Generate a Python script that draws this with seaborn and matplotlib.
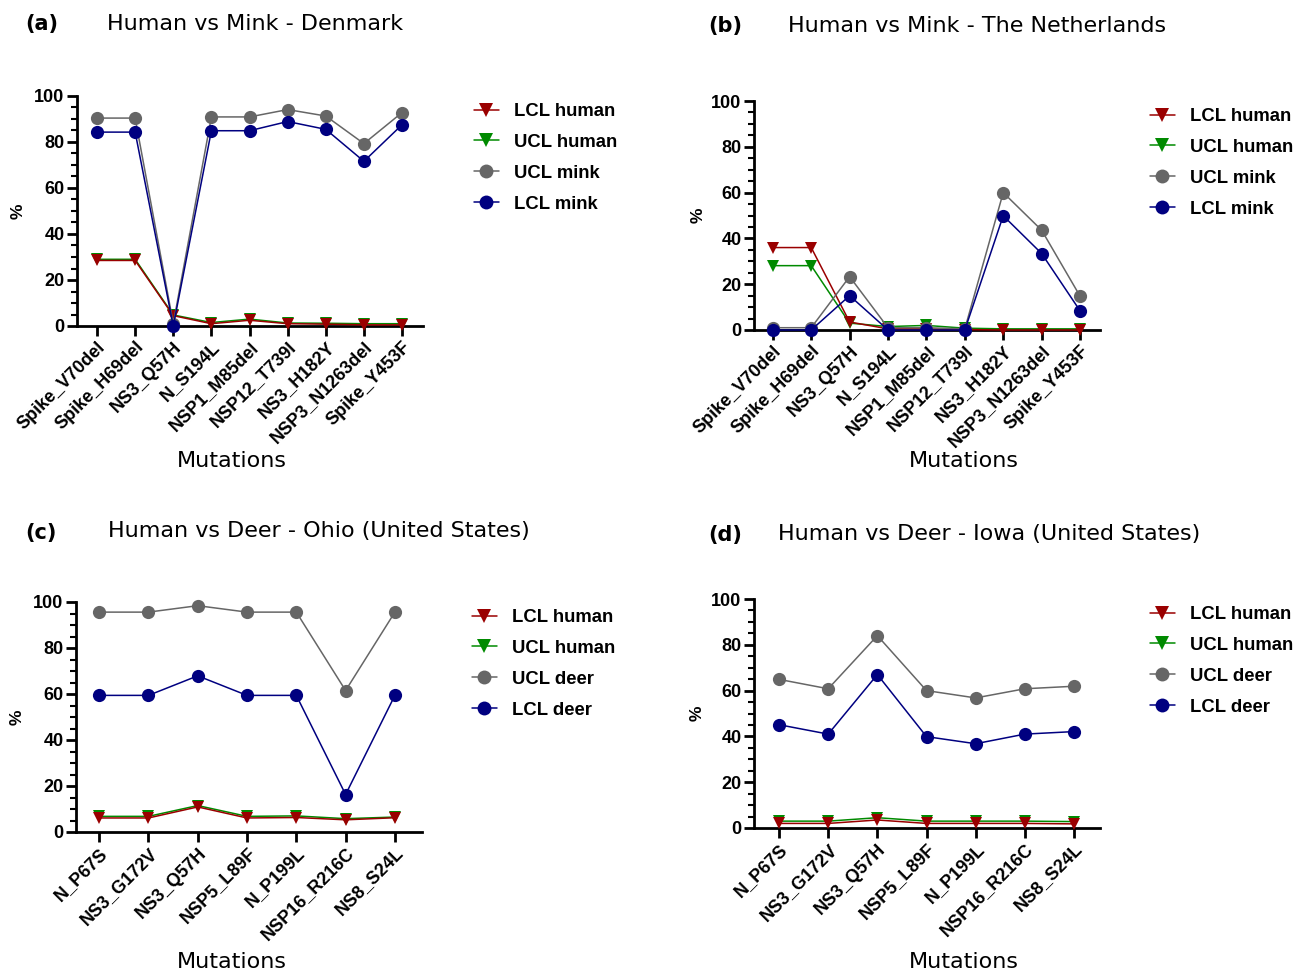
import matplotlib
matplotlib.use("Agg")
import matplotlib.pyplot as plt
from matplotlib.lines import Line2D
from matplotlib.ticker import MultipleLocator
import pandas as pd
import seaborn as sns

sns.set_theme(style="ticks")
plt.rcParams["font.family"] = ["DejaVu Sans"]
plt.rcParams["text.color"] = "black"
plt.rcParams["axes.labelcolor"] = "black"
plt.rcParams["xtick.color"] = "black"
plt.rcParams["ytick.color"] = "black"

# ---- data -------------------------------------------------------------
mink_mutations = ["Spike_V70del", "Spike_H69del", "NS3_Q57H", "N_S194L", "NSP1_M85del",
                  "NSP12_T739I", "NS3_H182Y", "NSP3_N1263del", "Spike_Y453F"]
deer_mutations = ["N_P67S", "NS3_G172V", "NS3_Q57H", "NSP5_L89F", "N_P199L",
                  "NSP16_R216C", "NS8_S24L"]

# Denmark
dk_lcl_human = [28.5, 28.5, 4.5, 1.0, 2.5, 1.0, 0.8, 0.5, 0.5]
dk_ucl_human = [29.0, 29.0, 4.8, 1.5, 3.0, 1.3, 1.2, 1.0, 1.0]
dk_ucl_mink = [90.4, 90.4, 1.0, 90.9, 90.9, 94.1, 91.3, 79.3, 92.8]
dk_lcl_mink = [84.3, 84.3, 0.0, 84.9, 84.9, 88.9, 85.5, 71.6, 87.5]

# The Netherlands
nl_lcl_human = [36.0, 36.0, 3.5, 0.5, 0.5, 0.2, 0.0, 0.0, 0.0]
nl_ucl_human = [28.1, 28.1, 3.0, 1.5, 2.0, 0.8, 0.5, 0.5, 0.5]
nl_ucl_mink = [1.0, 1.0, 23.3, 1.0, 1.0, 0.5, 60.0, 43.6, 14.8]
nl_lcl_mink = [0.0, 0.0, 15.0, 0.0, 0.0, 0.0, 49.9, 33.4, 8.4]

# Ohio
oh_lcl_human = [6.1, 6.1, 10.9, 6.1, 6.3, 5.3, 6.2]
oh_ucl_human = [6.8, 6.8, 11.5, 6.8, 7.0, 5.8, 6.5]
oh_ucl_deer = [95.6, 95.6, 98.4, 95.6, 95.6, 61.5, 95.6]
oh_lcl_deer = [59.4, 59.4, 67.9, 59.4, 59.4, 16.3, 59.4]

# Iowa
ia_lcl_human = [2.0, 2.0, 3.5, 2.0, 2.0, 2.0, 1.8]
ia_ucl_human = [3.0, 3.0, 4.5, 3.0, 3.0, 3.0, 2.8]
ia_ucl_deer = [64.9, 60.8, 84.0, 60.0, 56.8, 60.8, 61.9]
ia_lcl_deer = [45.1, 41.0, 67.0, 39.9, 36.8, 41.0, 42.1]

RED = "#9a0000"
GREEN = "#008a00"
GRAY = "#666666"
BLUE = "#000080"

W, H = 1295, 973
fig = plt.figure(figsize=(W / 100, H / 100), dpi=100)

TICK_FONT = {"family": "Liberation Sans", "weight": "bold", "size": 13}


def px_axes(x0, y_top, x1, y_bot):
    return fig.add_axes([x0 / W, 1 - y_bot / H, (x1 - x0) / W, (y_bot - y_top) / H])


def panel(rect, cats, series, animal, xlim, legend_xy, letter, letter_xy,
          title, title_xy, xlabel_xy, ylabel_xy):
    ax = px_axes(*rect)
    names = ["LCL human", "UCL human", f"UCL {animal}", f"LCL {animal}"]
    colors = [RED, GREEN, GRAY, BLUE]
    markers = ["v", "v", "o", "o"]
    zorders = [5, 4, 6, 7]
    for i in range(4):
        df = pd.DataFrame({"mutation": cats, "pct": series[i]})
        sns.lineplot(data=df, x="mutation", y="pct", ax=ax, color=colors[i],
                     marker=markers[i], markersize=9.5 if markers[i] == "o" else 9,
                     markeredgewidth=0, linewidth=1.1, sort=False,
                     clip_on=False, zorder=zorders[i], legend=False)
    ax.set_ylim(0, 100)
    ax.set_xlim(*xlim)
    ax.yaxis.set_major_locator(MultipleLocator(20))
    ax.yaxis.set_minor_locator(MultipleLocator(5))
    for s in ["top", "right"]:
        ax.spines[s].set_visible(False)
    for s in ["left", "bottom"]:
        ax.spines[s].set_linewidth(2.0)
        ax.spines[s].set_color("black")
        ax.spines[s].set_zorder(2)
    ax.tick_params(axis="both", which="major", length=7, width=2, direction="out",
                   colors="black", pad=2)
    ax.tick_params(axis="y", which="minor", length=4, width=1.5, direction="out",
                   colors="black")
    ax.set_xticks(range(len(cats)))
    ax.set_xticklabels(cats, rotation=45, ha="right", rotation_mode="anchor",
                       fontdict=TICK_FONT, color="black")
    for lab in ax.get_yticklabels():
        lab.set_fontsize(TICK_FONT["size"])
        lab.set_fontweight("bold")
        lab.set_family(TICK_FONT["family"])
        lab.set_color("black")
    ax.set_xlabel("")
    ax.set_ylabel("")

    handles = [Line2D([0], [0], color=colors[i], marker=markers[i], markersize=10,
                      markeredgewidth=0, linewidth=1.1) for i in range(4)]
    leg = fig.legend(handles, names, loc="upper left",
                     bbox_to_anchor=(legend_xy[0] / W, 1 - legend_xy[1] / H),
                     frameon=False, handlelength=1.35, handletextpad=0.8,
                     labelspacing=0.75, borderaxespad=0, borderpad=0,
                     prop={"family": "Liberation Sans", "weight": "bold", "size": 13.3})
    for t in leg.get_texts():
        t.set_color("black")

    fig.text(letter_xy[0] / W, 1 - letter_xy[1] / H, letter, fontsize=15,
             fontweight="bold", ha="left", va="center", color="black")
    fig.text(title_xy[0] / W, 1 - title_xy[1] / H, title, fontsize=16,
             ha="left", va="center", color="black")
    fig.text(xlabel_xy[0] / W, 1 - xlabel_xy[1] / H, "Mutations", fontsize=16,
             ha="center", va="center", color="black")
    fig.text(ylabel_xy[0] / W, 1 - ylabel_xy[1] / H, "%", fontsize=12.5,
             fontweight="bold", family="Liberation Sans", rotation=90,
             ha="center", va="center", color="black")
    return ax


panel((77, 96, 423, 326), mink_mutations,
      [dk_lcl_human, dk_ucl_human, dk_ucl_mink, dk_lcl_mink], "mink",
      (-0.525, 8.55), (474, 103), "(a)", (25, 24),
      "Human vs Mink - Denmark", (107, 24), (232, 461), (18, 211))

panel((754, 101, 1100, 330), mink_mutations,
      [nl_lcl_human, nl_ucl_human, nl_ucl_mink, nl_lcl_mink], "mink",
      (-0.49, 8.52), (1150, 108), "(b)", (708, 26),
      "Human vs Mink - The Netherlands", (788, 26), (964, 461), (698, 215))

panel((76, 602, 422, 832), deer_mutations,
      [oh_lcl_human, oh_ucl_human, oh_ucl_deer, oh_lcl_deer], "deer",
      (-0.47, 6.55), (472, 609), "(c)", (25, 533),
      "Human vs Deer - Ohio (United States)", (108, 531), (232, 962), (17, 717))

panel((754, 599, 1100, 828), deer_mutations,
      [ia_lcl_human, ia_ucl_human, ia_ucl_deer, ia_lcl_deer], "deer",
      (-0.51, 6.53), (1150, 606), "(d)", (708, 535),
      "Human vs Deer - Iowa (United States)", (778, 534), (964, 962), (697, 713))

fig.savefig("out.png", dpi=100, facecolor="white")
